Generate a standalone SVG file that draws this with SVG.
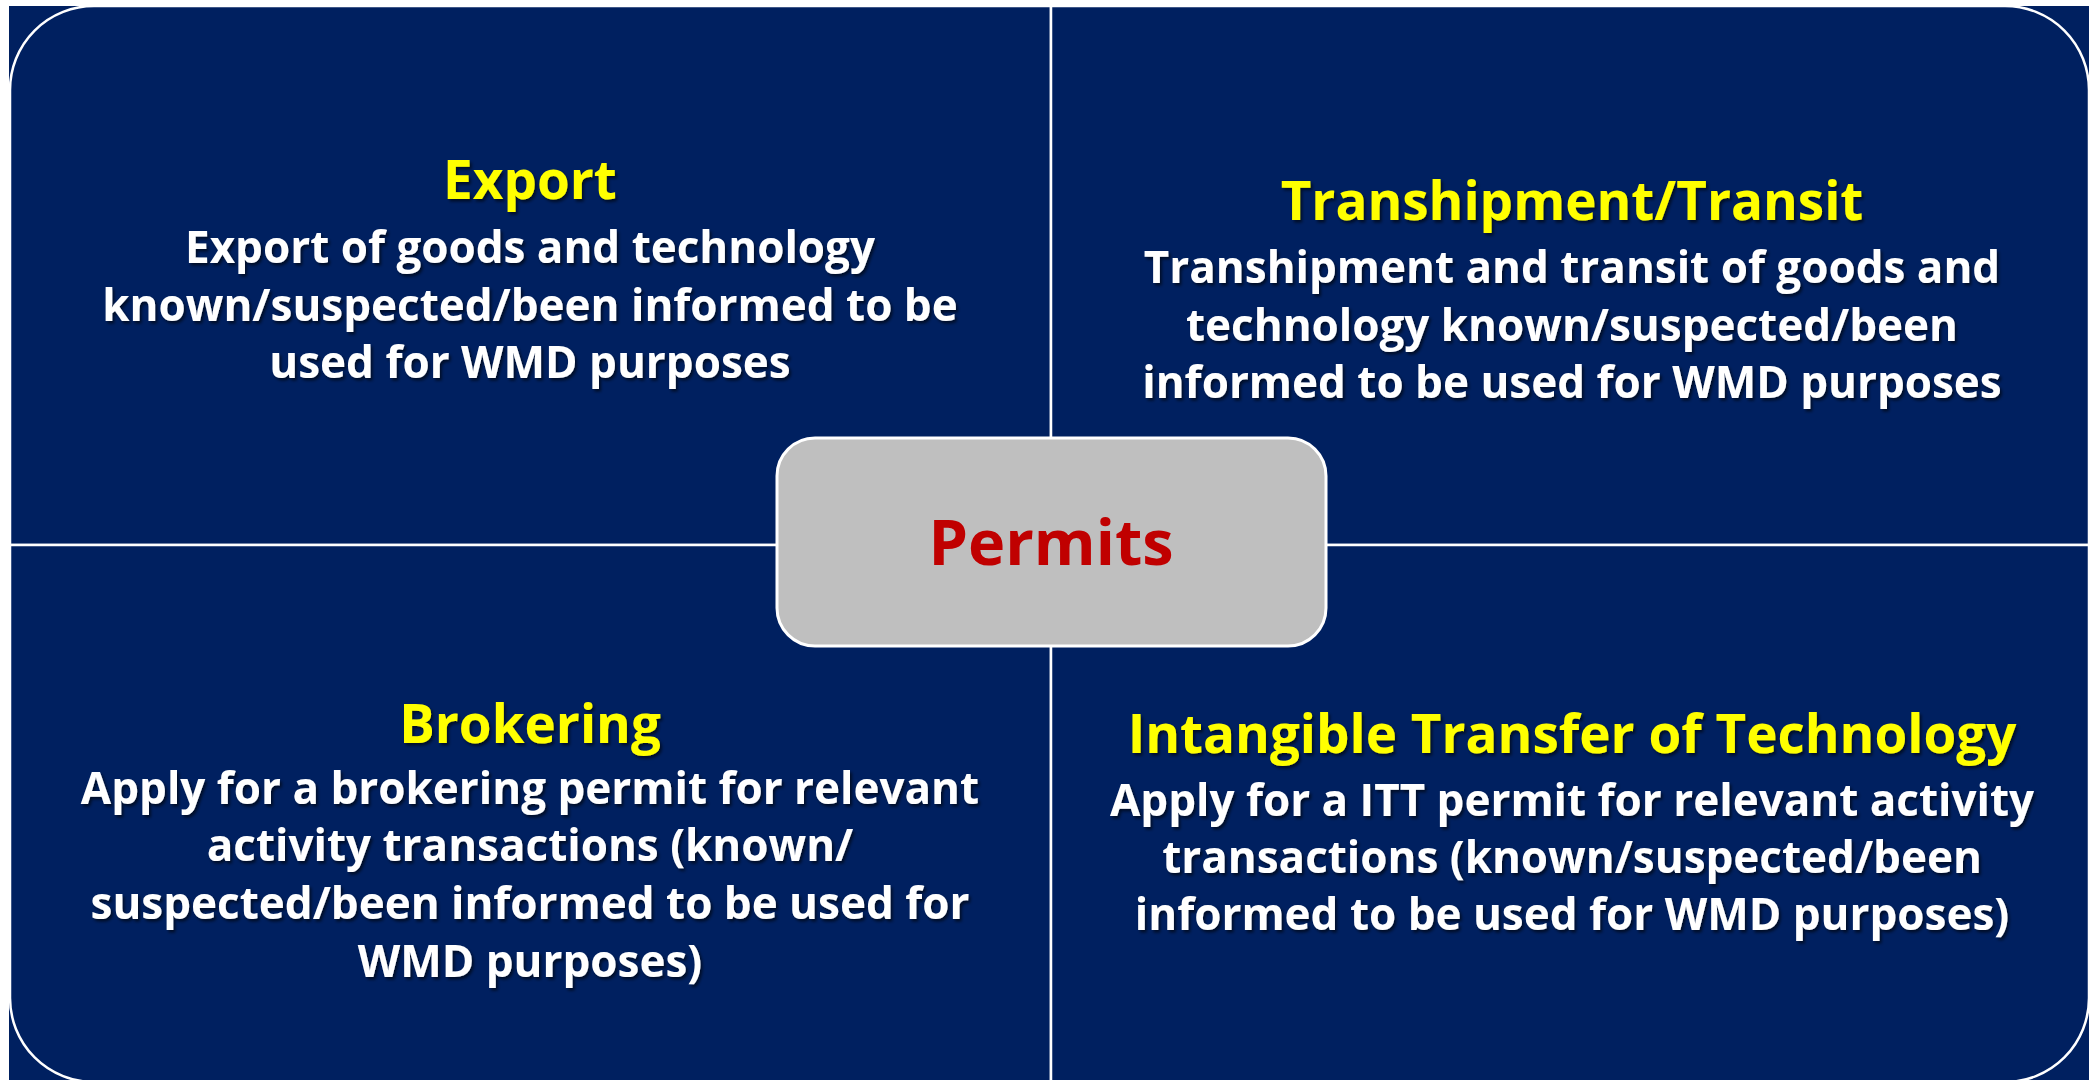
<svg xmlns="http://www.w3.org/2000/svg" width="2089" height="1080" viewBox="0 0 2089 1080">
  <defs>
    <filter id="shadow" x="-5%" y="-20%" width="110%" height="140%">
      <feDropShadow dx="2" dy="2.5" stdDeviation="1.5" flood-color="#000000" flood-opacity="0.6"/>
    </filter>
    <style>
      .quad { fill: #002060; stroke: #FFFFFF; stroke-width: 2.5; }
      .title { font-family: "Open Sans", Lato, "Liberation Sans", sans-serif; font-weight: bold; font-size: 53px; fill: #FFFF00; text-anchor: middle; filter: url(#shadow); }
      .body { font-family: "Open Sans", Lato, "Liberation Sans", sans-serif; font-weight: bold; font-size: 44px; fill: #FFFFFF; text-anchor: middle; filter: url(#shadow); }
      .center { fill: #BFBFBF; stroke: #FFFFFF; stroke-width: 3; }
      .centerText { font-family: "Open Sans", Lato, "Liberation Sans", sans-serif; font-weight: bold; font-size: 63px; fill: #C00000; text-anchor: middle; }
    </style>
  </defs>
  <rect x="0" y="0" width="2089" height="1080" fill="#FFFFFF"/>
  <rect x="9" y="6" width="2080" height="1080" fill="#002060"/>

  <g id="connectors">
    <line x1="1051" y1="6" x2="1051" y2="1082" stroke="#FFFFFF" stroke-width="2.5"/>
    <line x1="10" y1="545" x2="2089" y2="545" stroke="#FFFFFF" stroke-width="2.5"/>
  </g>

  <g id="export">
    <path class="quad" d="M10,545 L10,90 A84,84 0 0 1 94,6 L1051,6 L1051,545 Z"/>
    <text class="title" x="530" y="199">Export</text>
    <text class="body" x="530" y="263">Export of goods and technology</text>
    <text class="body" x="530" y="321">known/suspected/been informed to be</text>
    <text class="body" x="530" y="378">used for WMD purposes</text>
  </g>

  <g id="transit">
    <path class="quad" d="M1051,6 L2005,6 A84,84 0 0 1 2089,90 L2089,545 L1051,545 Z"/>
    <text class="title" x="1572" y="220">Transhipment/Transit</text>
    <text class="body" x="1572" y="283">Transhipment and transit of goods and</text>
    <text class="body" x="1572" y="341">technology known/suspected/been</text>
    <text class="body" x="1572" y="398">informed to be used for WMD purposes</text>
  </g>

  <g id="brokering">
    <path class="quad" d="M10,545 L1051,545 L1051,1082 L94,1082 A84,84 0 0 1 10,998 Z"/>
    <text class="title" x="530" y="743">Brokering</text>
    <text class="body" x="530" y="804">Apply for a brokering permit for relevant</text>
    <text class="body" x="530" y="861">activity transactions (known/</text>
    <text class="body" x="530" y="919">suspected/been informed to be used for</text>
    <text class="body" x="530" y="977">WMD purposes)</text>
  </g>

  <g id="itt">
    <path class="quad" d="M1051,545 L2089,545 L2089,998 A84,84 0 0 1 2005,1082 L1051,1082 Z"/>
    <text class="title" x="1572" y="753">Intangible Transfer of Technology</text>
    <text class="body" x="1572" y="816">Apply for a ITT permit for relevant activity</text>
    <text class="body" x="1572" y="873">transactions (known/suspected/been</text>
    <text class="body" x="1572" y="930">informed to be used for WMD purposes)</text>
  </g>

  <g id="permits">
    <rect class="center" x="777" y="438" width="549" height="208" rx="38" ry="38"/>
    <text class="centerText" x="1051" y="565">Permits</text>
  </g>
</svg>
